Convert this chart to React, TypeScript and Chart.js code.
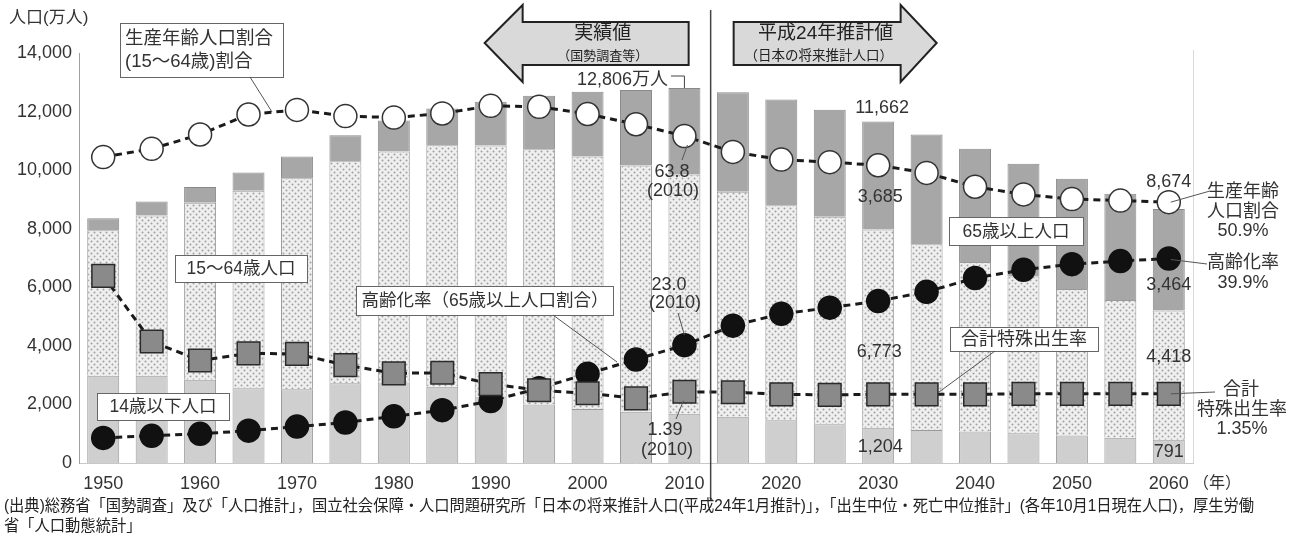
import React, { useEffect, useRef } from 'react';
import { Chart, registerables } from 'chart.js';

Chart.register(...registerables);

// ---- data (万人 / % / 合計特殊出生率) ----
const years = ['1950', '1955', '1960', '1965', '1970', '1975', '1980', '1985', '1990', '1995', '2000', '2005', '2010',
  '2015', '2020', '2025', '2030', '2035', '2040', '2045', '2050', '2055', '2060'];
const yTicks = [0, 2000, 4000, 6000, 8000, 10000, 12000, 14000];
const pop0to14 = [2979, 2980, 2843, 2553, 2515, 2722, 2751, 2603, 2249, 2001, 1847, 1752, 1680,
  1583, 1457, 1324, 1204, 1129, 1073, 1012, 939, 861, 791];
const pop15to64 = [4966, 5473, 6047, 6744, 7212, 7581, 7883, 8251, 8590, 8716, 8622, 8409, 8173,
  7682, 7341, 7085, 6773, 6343, 5787, 5353, 5001, 4706, 4418];
const pop65plus = [411, 475, 535, 624, 739, 887, 1065, 1247, 1493, 1826, 2204, 2576, 2948,
  3395, 3612, 3657, 3685, 3741, 3868, 3856, 3768, 3626, 3464];
const workingRatio = [59.7, 61.3, 64.1, 68.0, 68.9, 67.7, 67.4, 68.2, 69.7, 69.5, 68.1, 66.1, 63.8,
  60.7, 59.2, 58.7, 58.1, 56.6, 53.9, 52.4, 51.5, 51.2, 50.9];
const agingRatio = [4.9, 5.3, 5.7, 6.3, 7.1, 7.9, 9.1, 10.3, 12.1, 14.6, 17.4, 20.2, 23.0,
  26.8, 29.1, 30.3, 31.6, 33.4, 36.1, 37.7, 38.8, 39.4, 39.9];
const fertility = [3.65, 2.37, 2.00, 2.14, 2.13, 1.91, 1.75, 1.76, 1.54, 1.42, 1.36, 1.26, 1.39,
  1.38, 1.34, 1.33, 1.34, 1.34, 1.34, 1.35, 1.35, 1.35, 1.35];

const FONT = "'Liberation Sans', 'Noto Sans CJK JP', sans-serif";

function makeDots(): CanvasPattern | string {
  const c = document.createElement('canvas');
  c.width = 6; c.height = 6;
  const g = c.getContext('2d');
  if (!g) return '#e4e4e4';
  g.fillStyle = '#efefef';
  g.fillRect(0, 0, 6, 6);
  g.fillStyle = '#a0a0a0';
  g.beginPath(); g.arc(1.5, 1.5, 1.0, 0, Math.PI * 2); g.fill();
  g.beginPath(); g.arc(4.5, 4.5, 1.0, 0, Math.PI * 2); g.fill();
  return g.createPattern(c, 'repeat') || '#e4e4e4';
}

const annotate = {
  id: 'annotate',
  afterDraw(chart: any) {
    const ctx: CanvasRenderingContext2D = chart.ctx;
    const xs = chart.scales.x;
    const area = chart.chartArea;
    const cx = (i: number) => xs.getPixelForValue(i);
    const pt = (ds: number, i: number) => chart.getDatasetMeta(ds).data[i];
    ctx.save();
    const text = (s: string, x: number, y: number, size: number, align: CanvasTextAlign = 'center', color = '#333') => {
      ctx.font = `${size}px ${FONT}`;
      ctx.fillStyle = color;
      ctx.textAlign = align;
      ctx.textBaseline = 'middle';
      ctx.fillText(s, x, y);
    };
    const line = (pts: number[][], color = '#555', w = 1) => {
      ctx.beginPath();
      ctx.strokeStyle = color;
      ctx.lineWidth = w;
      ctx.setLineDash([]);
      pts.forEach((p, k) => (k ? ctx.lineTo(p[0], p[1]) : ctx.moveTo(p[0], p[1])));
      ctx.stroke();
    };
    const box = (x0: number, y0: number, x1: number, y1: number) => {
      ctx.fillStyle = '#fff';
      ctx.fillRect(x0, y0, x1 - x0, y1 - y0);
      ctx.strokeStyle = '#666';
      ctx.lineWidth = 1;
      ctx.strokeRect(x0 + 0.5, y0 + 0.5, x1 - x0, y1 - y0);
    };

    // faint right frame line
    line([[area.right + 0.5, area.top - 3], [area.right + 0.5, area.bottom]], '#d8d8d8', 1);

    // divider between actual and projection
    const d = (cx(12) + cx(13)) / 2 + 2;
    line([[d, 10], [d, 500]], '#444', 1.5);

    // arrows
    ctx.setLineDash([]);
    ctx.fillStyle = '#d9d9d9';
    ctx.strokeStyle = '#222';
    ctx.lineWidth = 2;
    ctx.beginPath();
    ctx.moveTo(d - 226, 43); ctx.lineTo(d - 188, 5); ctx.lineTo(d - 188, 22); ctx.lineTo(d - 22, 22);
    ctx.lineTo(d - 22, 65); ctx.lineTo(d - 188, 65); ctx.lineTo(d - 188, 82); ctx.closePath();
    ctx.fill(); ctx.stroke();
    ctx.beginPath();
    ctx.moveTo(d + 226, 43); ctx.lineTo(d + 190, 5); ctx.lineTo(d + 190, 22); ctx.lineTo(d + 23, 22);
    ctx.lineTo(d + 23, 65); ctx.lineTo(d + 190, 65); ctx.lineTo(d + 190, 82); ctx.closePath();
    ctx.fill(); ctx.stroke();
    text('実績値', d - 108, 34, 19, 'center', '#222');
    text('（国勢調査等）', d - 108, 56, 13, 'center', '#222');
    text('平成24年推計値', d + 115, 34, 19, 'center', '#222');
    text('（日本の将来推計人口）', d + 108, 56, 13.5, 'center', '#222');

    // axis title
    text('人口(万人)', 9, 18, 17, 'left', '#333');
    text('（年）', 1193, 484, 16, 'left', '#333');

    // box: 生産年齢人口割合
    box(120, 23, 283, 77);
    text('生産年齢人口割合', 125, 39, 18.5, 'left');
    text('(15〜64歳)割合', 125, 62, 18.5, 'left');
    line([[250, 77], [272, 112]]);

    // 12,806万人 bracket
    const top2010 = pt(2, 12);
    text('12,806万人', 668, 80, 18, 'right');
    line([[671, 76], [cx(12), 76], [cx(12), top2010.y]], '#444', 1);

    // 2030 labels
    text('11,662', cx(16) + 4, 108, 18);
    text('3,685', cx(16) + 2, 197, 18);
    text('6,773', cx(16) + 1, 352, 18);
    text('1,204', cx(16) + 2, 447, 18);

    // 2060 labels
    text('8,674', cx(22), 182, 18);
    text('3,464', cx(22), 285, 18);
    text('4,418', cx(22), 357, 18);
    text('791', cx(22), 452, 18);

    // 2010 labels
    const w10 = pt(3, 12);
    text('63.8', 672, 172, 18);
    text('(2010)', 673, 191, 18);
    line([[w10.x + 3, w10.y + 9], [682, 160]]);
    const a10 = pt(4, 12);
    text('23.0', 669, 285, 18);
    text('(2010)', 675, 303, 18);
    line([[678, 313], [a10.x, a10.y - 10]]);
    const f10 = pt(5, 12);
    text('1.39', 665, 430, 18);
    text('(2010)', 667, 450, 18);
    line([[f10.x - 1, f10.y + 9], [676, 419]]);

    // boxes
    box(175, 255, 307, 282);
    text('15〜64歳人口', 241, 269, 17.5);
    box(97, 393, 229, 420);
    text('14歳以下人口', 163, 407, 17.5);
    box(356, 286, 613, 315);
    text('高齢化率（65歳以上人口割合）', 485, 301, 17.5);
    line([[553, 315], [617, 362]]);
    box(949, 217, 1083, 245);
    text('65歳以上人口', 1016, 232, 17.5);
    box(950, 327, 1098, 351);
    text('合計特殊出生率', 1024, 340, 18);
    const f35 = pt(5, 17);
    line([[995, 351], [f35.x + 12, f35.y - 2]]);

    // right side labels
    const w60 = pt(3, 22);
    line([[w60.x + 2, w60.y], [1210, 191]]);
    text('生産年齢', 1243, 192, 18);
    text('人口割合', 1243, 212, 18);
    text('50.9%', 1243, 231, 18);
    const a60 = pt(4, 22);
    line([[a60.x + 2, a60.y + 1], [1207, 264]]);
    text('高齢化率', 1243, 263, 18);
    text('39.9%', 1243, 283, 18);
    const f60 = pt(5, 22);
    line([[f60.x + 2, f60.y], [1215, 392]]);
    text('合計', 1241, 390, 18);
    text('特殊出生率', 1242, 410, 18);
    text('1.35%', 1242, 429, 18);

    // source
    const src1 = '(出典)総務省「国勢調査」及び「人口推計」，国立社会保障・人口問題研究所「日本の将来推計人口(平成24年1月推計)」，「出生中位・死亡中位推計」(各年10月1日現在人口)，厚生労働';
    const src2 = '省「人口動態統計」';
    ctx.font = `16px ${FONT}`;
    const wNat = ctx.measureText(src1).width;
    const s = 1250 / wNat;
    ctx.save();
    ctx.translate(4, 0);
    ctx.scale(s, 1);
    ctx.fillStyle = '#222';
    ctx.textAlign = 'left';
    ctx.textBaseline = 'middle';
    ctx.fillText(src1, 0, 507);
    ctx.fillText(src2, 0, 527);
    ctx.restore();

    ctx.restore();
  },
};

export default function App() {
  const ref = useRef<HTMLCanvasElement>(null);
  useEffect(() => {
    document.body.style.margin = '0';
    if (!ref.current) return;
    const dots = makeDots();
    const lineCommon = {
      type: 'line' as const,
      borderColor: '#1a1a1a',
      borderWidth: 3,
      borderDash: [7, 5],
      pointBorderColor: '#333',
      pointBorderWidth: 1.5,
      fill: false,
      tension: 0,
    };
    const chart = new Chart(ref.current, {
      type: 'bar',
      data: {
        labels: years,
        datasets: [
          { label: '14歳以下人口', data: pop0to14, backgroundColor: '#cfcfcf', borderColor: '#9a9a9a', borderWidth: 1, yAxisID: 'y', order: 3, stack: 'pop' },
          { label: '15〜64歳人口', data: pop15to64, backgroundColor: dots as any, borderColor: '#9a9a9a', borderWidth: 1, yAxisID: 'y', order: 3, stack: 'pop' },
          { label: '65歳以上人口', data: pop65plus, backgroundColor: '#a7a7a7', borderColor: '#8a8a8a', borderWidth: 1, yAxisID: 'y', order: 3, stack: 'pop' },
          { ...lineCommon, label: '生産年齢人口割合', data: workingRatio, yAxisID: 'y2', order: 2, pointStyle: 'circle', pointRadius: 11.5, pointBackgroundColor: '#ffffff' } as any,
          { ...lineCommon, label: '高齢化率', data: agingRatio, yAxisID: 'y2', order: 1, pointStyle: 'circle', pointRadius: 11.5, pointBackgroundColor: '#111111', pointBorderColor: '#111' } as any,
          { ...lineCommon, label: '合計特殊出生率', data: fertility, yAxisID: 'y3', order: 0, pointStyle: 'rect', pointRadius: 16, pointBackgroundColor: '#8a8a8a', pointBorderColor: '#2a2a2a' } as any,
        ],
      },
      options: {
        responsive: false,
        animation: false,
        devicePixelRatio: 1,
        layout: { padding: { left: 0, right: 110, top: 53, bottom: 0 } },
        plugins: { legend: { display: false }, tooltip: { enabled: false } },
        datasets: { bar: { categoryPercentage: 1, barPercentage: 0.66 } },
        scales: {
          x: {
            stacked: true,
            offset: true,
            grid: { display: false, drawTicks: false },
            border: { display: true, color: '#c8c8c8', width: 1 },
            ticks: {
              autoSkip: false,
              maxRotation: 0,
              padding: 10,
              color: '#333',
              font: { size: 18, family: FONT },
              callback: (_v: any, i: number) => (Number(years[i]) % 10 === 0 ? years[i] : ''),
            },
            afterFit: (s: any) => { s.height = 75; },
          },
          y: {
            stacked: true,
            min: yTicks[0],
            max: yTicks[yTicks.length - 1],
            grid: { display: false, drawTicks: false },
            border: { display: true, color: '#a0a0a0', width: 1 },
            afterBuildTicks: (s: any) => { s.ticks = yTicks.map((v) => ({ value: v })); },
            ticks: {
              padding: 7,
              color: '#333',
              font: { size: 18, family: FONT },
              callback: (v: any) => Number(v).toLocaleString('en-US'),
            },
            afterFit: (s: any) => { s.width = 79; },
          },
          y2: { display: false, min: 0, max: 80, stacked: false },
          y3: { display: false, min: 0, max: 8, stacked: false },
        },
      },
      plugins: [annotate],
    });
    return () => chart.destroy();
  }, []);
  return (
    <div style={{ width: 1303, height: 538, background: '#fff' }}>
      <canvas ref={ref} width={1303} height={538} style={{ display: 'block' }} />
    </div>
  );
}
